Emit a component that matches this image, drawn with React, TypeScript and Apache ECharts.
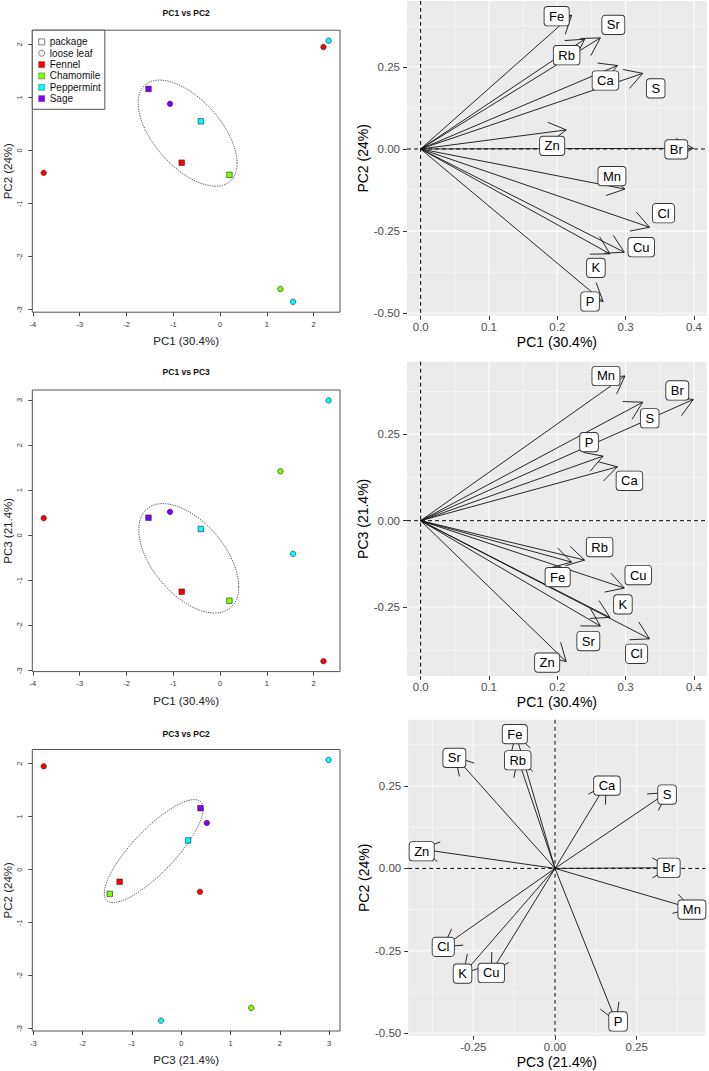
import React, { useEffect, useRef } from "react";
import * as echarts from "echarts";

// ---------- DATA ----------
const SPECIES = ["Fennel", "Chamomile", "Peppermint", "Sage"];
const SPECIES_COLORS = ["#FF0000", "#80FF00", "#00FFFF", "#8000FF"];
const PACKAGING = ["package", "loose leaf"];

const SAMPLE_SPECIES = ["Fennel", "Chamomile", "Peppermint", "Sage", "Fennel", "Fennel", "Chamomile", "Peppermint", "Peppermint", "Sage"];
const SAMPLE_PACKAGING = ["package", "package", "package", "package", "loose leaf", "loose leaf", "loose leaf", "loose leaf", "loose leaf", "loose leaf"];
const SCORE_PC1 = [-0.82, 0.2, -0.41, -1.53, -3.77, 2.21, 1.29, 2.32, 1.56, -1.07];
const SCORE_PC2 = [-0.23, -0.46, 0.55, 1.16, -0.42, 1.95, -2.61, 2.07, -2.85, 0.88];
const SCORE_PC3 = [-1.25, -1.45, 0.14, 0.39, 0.38, -2.79, 1.42, 2.99, -0.41, 0.52];

// confidence ellipse of the packaged samples: [centre x, centre y, half-width, half-height, correlation]
const ELLIPSE_PC1_PC2 = [-0.693, 0.327, 1.057, 1.0, -0.57];
const ELLIPSE_PC1_PC3 = [-0.669, -0.51, 1.068, 1.213, -0.52];
const ELLIPSE_PC3_PC2 = [-0.558, 0.349, 1.003, 0.972, 0.82];

const ELEMENTS = ["Fe", "Sr", "Rb", "Ca", "S", "Zn", "Br", "Mn", "Cl", "Cu", "K", "P"];
const LOAD_PC1 = [0.221, 0.263, 0.24, 0.288, 0.325, 0.213, 0.399, 0.299, 0.335, 0.298, 0.277, 0.267];
const LOAD_PC2 = [0.407, 0.338, 0.334, 0.254, 0.23, 0.058, 0.002, -0.122, -0.238, -0.314, -0.319, -0.464];
const LOAD_PC3 = [-0.12, -0.305, -0.114, 0.156, 0.343, -0.408, 0.351, 0.419, -0.342, -0.195, -0.28, 0.187];

const R_TICKS_PC1 = [-4, -3, -2, -1, 0, 1, 2];
const R_TICKS_PC2 = [-3, -2, -1, 0, 1, 2];
const R_TICKS_PC3 = [-3, -2, -1, 0, 1, 2, 3];
const GG_TICKS_PC1 = [0, 0.1, 0.2, 0.3, 0.4];
const GG_TICKS_PC2 = [-0.5, -0.25, 0, 0.25];
const GG_TICKS_PC3 = [-0.25, 0, 0.25];

// ---------- LAYOUT ----------
const FONT = '"Liberation Sans", Arial, Helvetica, sans-serif';
const HEAD_LEN = 20;

const LABEL_NUDGE_12: Record<string, number[]> = {
  Fe: [-15, 1], Sr: [13, -13], Rb: [-18, 16], Ca: [-12, 15], S: [13, 15], Zn: [-14, 16],
  Br: [-17, 1], Mn: [-13, -13], Cl: [14, -14], Cu: [17, -5], K: [-14, 14], P: [-13, 0],
};
const LABEL_NUDGE_13: Record<string, number[]> = {
  Mn: [-19, 0], Br: [-16, -9], S: [7, 16], P: [-14, -14], Ca: [12, 14], Rb: [15, -13],
  Fe: [-14, 15], Cu: [14, -13], K: [13, -13], Sr: [-12, 15], Cl: [-13, 15], Zn: [-19, 1],
};
const LABEL_NUDGE_32: Record<string, number[]> = {
  Fe: [-1, 0], Rb: [0, 2], Sr: [-1, 1], Ca: [1, 1], S: [0, 2], Zn: [0, 2],
  Br: [-1, 0], Mn: [0, 1], Cl: [0, 0], K: [-1, 0], Cu: [0, 1], P: [2, 0],
};

function rLimits(v: number[]) {
  const lo = Math.min(...v), hi = Math.max(...v);
  const e = (hi - lo) * 0.04;
  return [lo - e, hi + e];
}
function ggLimits(v: number[]) {
  const all = [0, ...v];
  const lo = Math.min(...all), hi = Math.max(...all);
  const e = (hi - lo) * 0.05;
  return [lo - e, hi + e];
}
function minorBreaks(majors: number[], lim: number[]) {
  const step = majors[1] - majors[0];
  const ext = [majors[0] - step, ...majors, majors[majors.length - 1] + step];
  const out: number[] = [];
  for (let i = 0; i < ext.length - 1; i++) {
    const m = (ext[i] + ext[i + 1]) / 2;
    if (m > lim[0] && m < lim[1]) out.push(m);
  }
  return out;
}

function ellipseItem(params: any, api: any) {
  const cx = api.value(0), cy = api.value(1), hx = api.value(2), hy = api.value(3), r = api.value(4);
  const s = Math.sqrt(1 - r * r);
  const pts: number[][] = [];
  for (let k = 0; k <= 144; k++) {
    const t = (k / 144) * 2 * Math.PI;
    pts.push(api.coord([cx + hx * Math.cos(t), cy + hy * (r * Math.cos(t) + s * Math.sin(t))]));
  }
  return {
    type: "polyline",
    shape: { points: pts },
    style: { stroke: "#555", lineWidth: 1, lineDash: [1.3, 1.1], fill: null },
  };
}

function gridLineItem(params: any, api: any) {
  const cs = params.coordSys;
  const orient = api.value(0), v = api.value(1), major = api.value(2);
  const style = { stroke: "#FFFFFF", lineWidth: major ? 1.1 : 0.55 };
  if (orient === 0) {
    const p = api.coord([v, 0]);
    return { type: "line", shape: { x1: p[0], y1: cs.y, x2: p[0], y2: cs.y + cs.height }, style };
  }
  const p = api.coord([0, v]);
  return { type: "line", shape: { x1: cs.x, y1: p[1], x2: cs.x + cs.width, y2: p[1] }, style };
}

function refLineItem(params: any, api: any) {
  const cs = params.coordSys;
  const o = api.coord([0, 0]);
  const style = { stroke: "#000", lineWidth: 1, lineDash: [4, 3] };
  return {
    type: "group",
    children: [
      { type: "line", shape: { x1: o[0], y1: cs.y, x2: o[0], y2: cs.y + cs.height }, style },
      { type: "line", shape: { x1: cs.x, y1: o[1], x2: cs.x + cs.width, y2: o[1] }, style },
    ],
  };
}

function arrowItem(params: any, api: any) {
  const o = api.coord([0, 0]);
  const t = api.coord([api.value(0), api.value(1)]);
  const a = Math.atan2(t[1] - o[1], t[0] - o[0]);
  const h = Math.PI / 6;
  const p1 = [t[0] - HEAD_LEN * Math.cos(a - h), t[1] - HEAD_LEN * Math.sin(a - h)];
  const p2 = [t[0] - HEAD_LEN * Math.cos(a + h), t[1] - HEAD_LEN * Math.sin(a + h)];
  const style = { stroke: "#111", lineWidth: 0.9, fill: null };
  return {
    type: "group",
    children: [
      { type: "line", shape: { x1: o[0], y1: o[1], x2: t[0], y2: t[1] }, style },
      { type: "polyline", shape: { points: [p1, t, p2] }, style },
    ],
  };
}

function makeLabelItem(nudge: Record<string, number[]>) {
  return (params: any, api: any) => {
    const name = ELEMENTS[api.value(2)];
    const t = api.coord([api.value(0), api.value(1)]);
    const off = nudge[name] || [0, 0];
    return {
      type: "text",
      x: t[0] + off[0],
      y: t[1] + off[1],
      style: {
        text: name,
        fill: "#000",
        font: `13px ${FONT}`,
        align: "center",
        verticalAlign: "middle",
        backgroundColor: "#FFFFFF",
        borderColor: "#333",
        borderWidth: 0.9,
        borderRadius: 3,
        padding: [2.7, 4.5, 2.7, 4.5],
      },
    };
  };
}

function buildOption() {
  const leftPanels = [
    { title: "PC1 vs PC2", titleTop: 8.5, xs: SCORE_PC1, ys: SCORE_PC2, xName: "PC1 (30.4%)", yName: "PC2 (24%)", xTicks: R_TICKS_PC1, yTicks: R_TICKS_PC2, ellipse: ELLIPSE_PC1_PC2, grid: { left: 32.3, top: 30.2, width: 307.7, height: 282 } },
    { title: "PC1 vs PC3", titleTop: 367.7, xs: SCORE_PC1, ys: SCORE_PC3, xName: "PC1 (30.4%)", yName: "PC3 (21.4%)", xTicks: R_TICKS_PC1, yTicks: R_TICKS_PC3, ellipse: ELLIPSE_PC1_PC3, grid: { left: 32.3, top: 390, width: 307.7, height: 281.6 } },
    { title: "PC3 vs PC2", titleTop: 729, xs: SCORE_PC3, ys: SCORE_PC2, xName: "PC3 (21.4%)", yName: "PC2 (24%)", xTicks: R_TICKS_PC3, yTicks: R_TICKS_PC2, ellipse: ELLIPSE_PC3_PC2, grid: { left: 32.3, top: 749.5, width: 307.7, height: 281.5 } },
  ];
  const rightPanels = [
    { xs: LOAD_PC1, ys: LOAD_PC2, xName: "PC1 (30.4%)", yName: "PC2 (24%)", xTicks: GG_TICKS_PC1, yTicks: GG_TICKS_PC2, xDec: 1, yDec: 2, nudge: LABEL_NUDGE_12, grid: { left: 407, top: 0.9, width: 299.9, height: 314.9 } },
    { xs: LOAD_PC1, ys: LOAD_PC3, xName: "PC1 (30.4%)", yName: "PC3 (21.4%)", xTicks: GG_TICKS_PC1, yTicks: GG_TICKS_PC3, xDec: 1, yDec: 2, nudge: LABEL_NUDGE_13, grid: { left: 407, top: 361.7, width: 299.9, height: 314.2 } },
    { xs: LOAD_PC3, ys: LOAD_PC2, xName: "PC3 (21.4%)", yName: "PC2 (24%)", xTicks: GG_TICKS_PC3, yTicks: GG_TICKS_PC2, xDec: 2, yDec: 2, nudge: LABEL_NUDGE_32, grid: { left: 408.2, top: 719.8, width: 297.2, height: 316 } },
  ];

  const grid: any[] = [];
  const xAxis: any[] = [];
  const yAxis: any[] = [];
  const series: any[] = [];
  const title: any[] = [];

  leftPanels.forEach((p) => {
    const gi = grid.length;
    grid.push({ ...p.grid, show: true, borderColor: "#555", borderWidth: 1, backgroundColor: "transparent" });
    const xl = rLimits(p.xs), yl = rLimits(p.ys);
    const tickCommon = { show: true, length: 4, lineStyle: { color: "#444", width: 1 } };
    xAxis.push({
      type: "value", gridIndex: gi, min: xl[0], max: xl[1], position: "bottom",
      axisLine: { show: false, onZero: false }, splitLine: { show: false },
      axisTick: { ...tickCommon, customValues: p.xTicks },
      axisLabel: { customValues: p.xTicks, fontSize: 7.5, color: "#333", margin: 8, fontFamily: FONT, formatter: (v: number) => String(Math.round(v)) },
      name: p.xName, nameLocation: "middle", nameGap: 23,
      nameTextStyle: { fontSize: 11.5, color: "#222", fontFamily: FONT },
    });
    yAxis.push({
      type: "value", gridIndex: gi, min: yl[0], max: yl[1], position: "left",
      axisLine: { show: false, onZero: false }, splitLine: { show: false },
      axisTick: { ...tickCommon, customValues: p.yTicks },
      axisLabel: { customValues: p.yTicks, fontSize: 7.5, color: "#333", margin: 9, rotate: 90, fontFamily: FONT, formatter: (v: number) => String(Math.round(v)) },
      name: p.yName, nameLocation: "middle", nameGap: 16,
      nameTextStyle: { fontSize: 11.5, color: "#222", fontFamily: FONT },
    });
    title.push({
      text: p.title, left: 186.2, top: p.titleTop, textAlign: "center", padding: 0,
      textStyle: { fontSize: 8.5, fontWeight: "bold", color: "#111", fontFamily: FONT },
    });
    SPECIES.forEach((sp, si) => {
      const data: any[] = [];
      p.xs.forEach((xv, k) => {
        if (SAMPLE_SPECIES[k] !== sp) return;
        data.push({ value: [xv, p.ys[k]], symbol: SAMPLE_PACKAGING[k] === PACKAGING[0] ? "rect" : "circle" });
      });
      series.push({
        type: "scatter", name: sp, xAxisIndex: gi, yAxisIndex: gi, symbolSize: 5.5, data,
        itemStyle: { color: SPECIES_COLORS[si], borderColor: "#222", borderWidth: 0.6, opacity: 1 },
        emphasis: { disabled: true }, z: 3,
      });
    });
    series.push({
      type: "custom", xAxisIndex: gi, yAxisIndex: gi, renderItem: ellipseItem, data: [p.ellipse], silent: true, z: 2,
    });
  });

  // legend-only series for the packaging symbols
  PACKAGING.forEach((pk) => {
    series.push({ type: "scatter", name: pk, xAxisIndex: 0, yAxisIndex: 0, data: [] });
  });

  rightPanels.forEach((p) => {
    const gi = grid.length;
    grid.push({ ...p.grid, show: true, borderWidth: 0, backgroundColor: "#EBEBEB" });
    const xl = ggLimits(p.xs), yl = ggLimits(p.ys);
    const tickCommon = { show: true, length: 4, lineStyle: { color: "#333", width: 1 } };
    xAxis.push({
      type: "value", gridIndex: gi, min: xl[0], max: xl[1], position: "bottom",
      axisLine: { show: false, onZero: false }, splitLine: { show: false },
      axisTick: { ...tickCommon, customValues: p.xTicks },
      axisLabel: { customValues: p.xTicks, fontSize: 11.5, color: "#4D4D4D", margin: 5, fontFamily: FONT, formatter: (v: number) => v.toFixed(p.xDec) },
      name: p.xName, nameLocation: "middle", nameGap: 19,
      nameTextStyle: { fontSize: 14, color: "#000", fontFamily: FONT },
    });
    yAxis.push({
      type: "value", gridIndex: gi, min: yl[0], max: yl[1], position: "left",
      axisLine: { show: false, onZero: false }, splitLine: { show: false },
      axisTick: { ...tickCommon, customValues: p.yTicks },
      axisLabel: { customValues: p.yTicks, fontSize: 11.5, color: "#4D4D4D", margin: 7, fontFamily: FONT, formatter: (v: number) => v.toFixed(p.yDec) },
      name: p.yName, nameLocation: "middle", nameGap: 33,
      nameTextStyle: { fontSize: 14, color: "#000", fontFamily: FONT },
    });
    const gl: number[][] = [];
    p.xTicks.forEach((v) => gl.push([0, v, 1]));
    minorBreaks(p.xTicks, xl).forEach((v) => gl.push([0, v, 0]));
    p.yTicks.forEach((v) => gl.push([1, v, 1]));
    minorBreaks(p.yTicks, yl).forEach((v) => gl.push([1, v, 0]));
    series.push({ type: "custom", xAxisIndex: gi, yAxisIndex: gi, renderItem: gridLineItem, data: gl, silent: true, z: 1 });
    series.push({ type: "custom", xAxisIndex: gi, yAxisIndex: gi, renderItem: refLineItem, data: [[0, 0]], silent: true, z: 2 });
    series.push({
      type: "custom", xAxisIndex: gi, yAxisIndex: gi, renderItem: arrowItem, silent: true, z: 3,
      data: p.xs.map((v, k) => [v, p.ys[k]]),
    });
    series.push({
      type: "custom", xAxisIndex: gi, yAxisIndex: gi, renderItem: makeLabelItem(p.nudge), silent: true, z: 4,
      data: p.xs.map((v, k) => [v, p.ys[k], k]),
    });
  });

  const legendData: any[] = [
    { name: PACKAGING[0], icon: "rect", itemStyle: { color: "#FFFFFF", borderColor: "#333", borderWidth: 0.8 } },
    { name: PACKAGING[1], icon: "circle", itemStyle: { color: "#FFFFFF", borderColor: "#333", borderWidth: 0.8 } },
    ...SPECIES.map((sp, si) => ({ name: sp, icon: "rect", itemStyle: { color: SPECIES_COLORS[si], borderColor: "#333", borderWidth: 0.4 } })),
  ];

  return {
    animation: false,
    backgroundColor: "#FFFFFF",
    title,
    grid,
    xAxis,
    yAxis,
    series,
    legend: {
      show: true, orient: "vertical", left: 32.3, top: 30.2, itemWidth: 6, itemHeight: 6, itemGap: 0,
      selectedMode: false, padding: [6, 4, 5, 6], borderColor: "#555", borderWidth: 1, backgroundColor: "#FFFFFF",
      textStyle: { fontSize: 10, lineHeight: 11.35, color: "#111", fontFamily: FONT },
      data: legendData, z: 10,
    },
  };
}

export default function App() {
  const ref = useRef<HTMLDivElement>(null);
  useEffect(() => {
    document.body.style.margin = "0";
    const chart = echarts.init(ref.current as HTMLDivElement, null, { renderer: "svg" });
    chart.setOption(buildOption() as any);
    return () => chart.dispose();
  }, []);
  return <div ref={ref} style={{ width: 709, height: 1071, position: "absolute", left: 0, top: 0 }} />;
}
